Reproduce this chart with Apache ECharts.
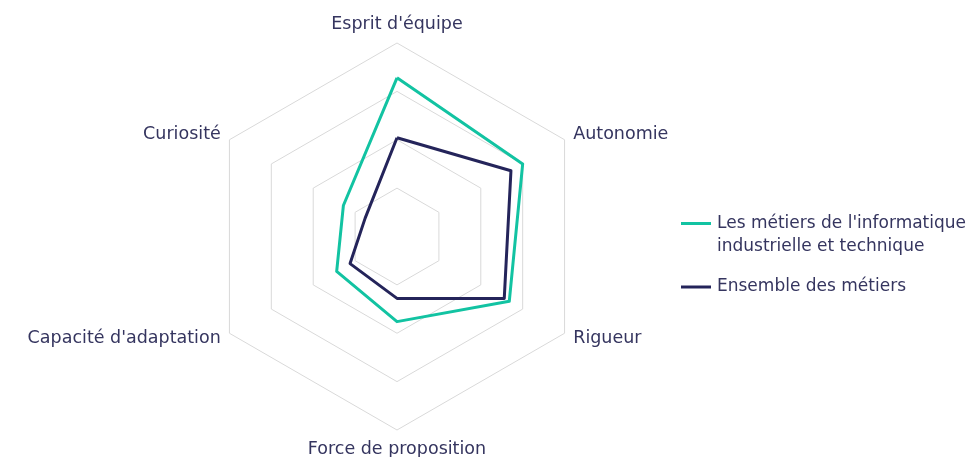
<!DOCTYPE html>
<html>
<head>
<meta charset="utf-8">
<script src="https://cdn.jsdelivr.net/npm/echarts@6/dist/echarts.min.js"></script>
<style>
  html, body { margin: 0; padding: 0; background: #fff; }
</style>
</head>
<body>
<div id="main" style="width: 971px; height: 457px"></div>
<script>
// axes, counter-clockwise from the top
const indicators = [
  "Esprit d'équipe",
  "Curiosité",
  "Capacité d'adaptation",
  "Force de proposition",
  "Rigueur",
  "Autonomie"
];
const seriesNames = [
  "Les métiers de l'informatique\nindustrielle et technique",
  "Ensemble des métiers"
];
const infoIndus = [82, 32, 36, 44, 67, 75];
const ensemble = [51, 19, 28, 32, 64, 68];
const maxValue = 100;

const textColor = "#35355f";
const colors = ["#12c3a2", "#24245a"];
const fontFamily = "DejaVu Sans";

let myChart = echarts.init(document.getElementById("main"));

let option = {
  animation: false,
  color: colors,
  legend: {
    orient: "vertical",
    left: 676,
    top: 207,
    itemWidth: 32,
    itemHeight: 26,
    itemGap: 16,
    textStyle: {
      color: textColor,
      fontFamily: fontFamily,
      fontSize: 17,
      lineHeight: 23
    },
    data: [
      // line at the top of the icon box so it sits beside the first text line
      { name: seriesNames[0], icon: "path://M0,0L30,0L30,3L0,3Z M0,26L0,26" },
      { name: seriesNames[1], icon: "path://M0,11.5L30,11.5L30,14.5L0,14.5Z M0,0L0,0 M0,26L0,26" }
    ]
  },
  radar: {
    center: [397, 236.5],
    radius: 193.5,
    splitNumber: 4,
    shape: "polygon",
    axisName: {
      color: textColor,
      fontFamily: fontFamily,
      fontSize: 17.5
    },
    nameGap: 10,
    axisLine: { show: false },
    splitArea: { show: false },
    splitLine: {
      lineStyle: { color: "#d9d9d9", width: 1 }
    },
    indicator: indicators.map((name) => ({ name: name, max: maxValue, min: 0 }))
  },
  series: [
    {
      type: "radar",
      symbol: "none",
      lineStyle: { width: 3 },
      data: [
        { name: seriesNames[0], value: infoIndus },
        { name: seriesNames[1], value: ensemble }
      ]
    }
  ]
};

myChart.setOption(option);
</script>
</body>
</html>
